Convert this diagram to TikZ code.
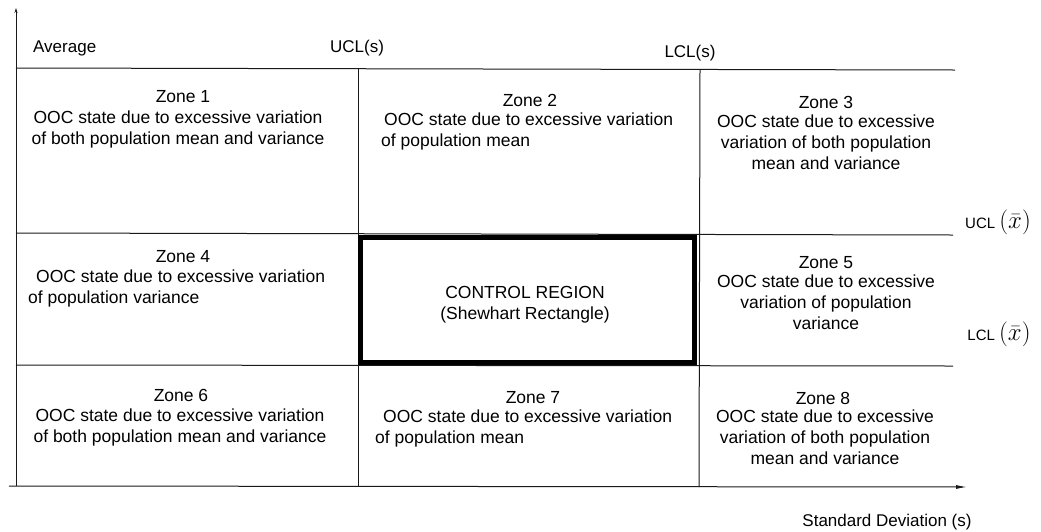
\documentclass[tikz,border=0pt]{standalone}
\usepackage{fontspec}
\setmainfont{Liberation Sans}
\usetikzlibrary{arrows.meta}
\begin{document}
\begin{tikzpicture}[x=1pt,y=-1pt,
  gridline/.style={line width=1pt,black!90},
  ztext/.style={font=\fontsize{17.5}{21}\selectfont,inner sep=0pt,align=center},
  zleft/.style={font=\fontsize{17.5}{21}\selectfont,inner sep=0pt,align=left,anchor=west},
  lbl/.style={font=\fontsize{17}{20}\selectfont,inner sep=0pt},
  sidelbl/.style={font=\fontsize{15}{18}\selectfont,inner sep=0pt},
  ctrlbox/.style={draw,line width=4.5pt,minimum width=334pt,minimum height=125pt,inner sep=0pt}]
\useasboundingbox (0,0) rectangle (1041,531);
% axis coordinates
\coordinate (ytop) at (16,8);
\coordinate (orig) at (16,486);
\coordinate (xstart) at (9,486);
\coordinate (xend) at (967,487);
% grid coordinates
\coordinate (t0) at (16,68);   \coordinate (t1) at (955,70);
\coordinate (r10) at (16,233); \coordinate (r11) at (953,235);
\coordinate (r20) at (16,365); \coordinate (r21) at (953,366);
\coordinate (v1t) at (358,68); \coordinate (v1b) at (358,486);
\coordinate (v2t) at (700,69); \coordinate (v2b) at (699,487);
% axes
\draw[gridline,-{Stealth[length=5pt,width=3pt]}] (orig) -- (ytop);
\draw[gridline,-{Latex[length=11pt,width=4pt]}] (xstart) -- (xend);
% grid
\draw[gridline] (t0) -- (t1);
\draw[gridline] (r10) -- (r11);
\draw[gridline] (r20) -- (r21);
\draw[gridline] (v1t) -- (v1b);
\draw[gridline] (v2t) -- (v2b);
% control region
\node[ctrlbox] (ctrl) at (527.5,300) {};
\node[ztext] (ctrltxt) at (525,305) {CONTROL  REGION\\(Shewhart  Rectangle)};
% header labels
\node[lbl,anchor=west] (avg) at (33,48) {Average};
\node[lbl] (uclsl) at (357,48) {UCL(s)};
\node[lbl] (lclsl) at (690,53) {LCL(s)};
\node[sidelbl] (uclx) at (998,222) {UCL {\fontsize{24}{26}\selectfont$(\bar{x})$}};
\node[sidelbl] (lclx) at (999,334) {LCL {\fontsize{24}{26}\selectfont$(\bar{x})$}};
\node[lbl] (sdl) at (887,522) {Standard  Deviation  (s)};
% zones
\node[ztext] (z1t) at (183,97) {Zone 1};
\node[ztext] (z1b) at (178,129) {OOC state due to excessive variation\\of both population  mean and variance};
\node[ztext] (z2t) at (530,100) {Zone 2};
\node[zleft] (z2b) at (381,131) {\hspace*{3pt}OOC state due to excessive  variation\\of population  mean};
\node[ztext] (z3t) at (826,102) {Zone 3};
\node[ztext] (z3b) at (826,142) {OOC state due to excessive\\variation  of both population\\mean and variance};
\node[ztext] (z4t) at (183,257) {Zone 4};
\node[zleft] (z4b) at (28,288) {\hspace*{8pt}OOC state due to excessive  variation\\of population  variance};
\node[ztext] (z5t) at (826,263) {Zone 5};
\node[ztext] (z5b) at (826,302) {OOC state due to excessive\\variation  of population\\variance};
\node[ztext] (z6t) at (181,395) {Zone 6};
\node[ztext] (z6b) at (180,427) {OOC state due to excessive variation\\of both population  mean and variance};
\node[ztext] (z7t) at (533,398) {Zone 7};
\node[zleft] (z7b) at (375,428) {\hspace*{8pt}OOC state due to excessive  variation\\of population  mean};
\node[ztext] (z8t) at (823,398) {Zone 8};
\node[ztext] (z8b) at (825,437) {OOC state due to excessive\\variation  of both population\\mean and variance};
\end{tikzpicture}
\end{document}
